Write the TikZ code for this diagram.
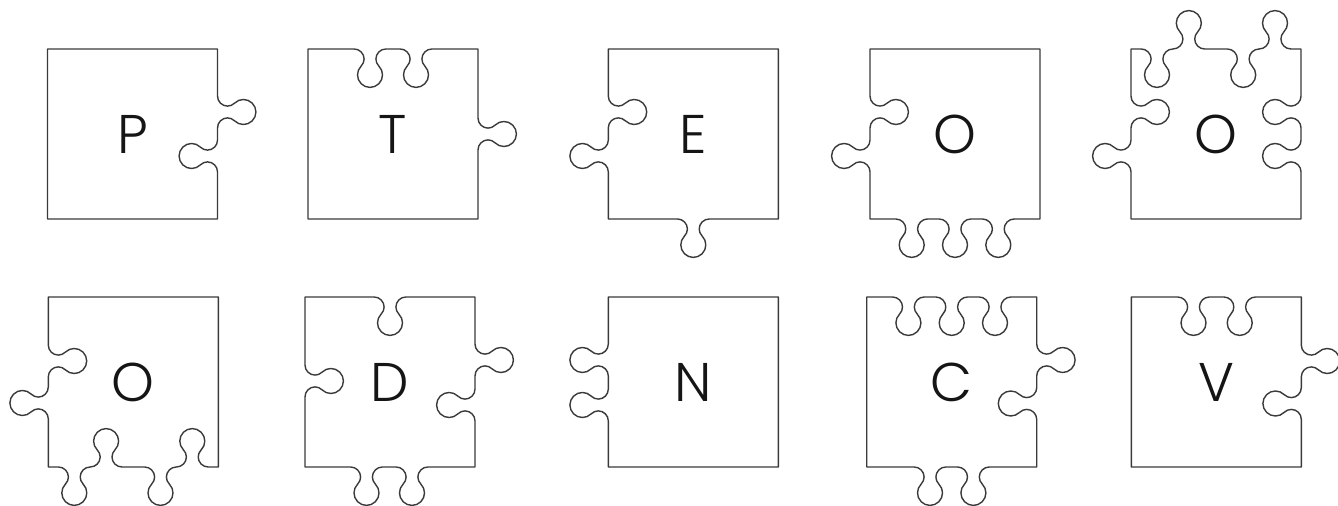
\documentclass[tikz,border=0pt]{standalone}
\usepackage{fontspec}
\usepackage{tikz}
\IfFontExistsTF{Poppins Light}{\newfontfamily\letterfont{Poppins Light}}{\newfontfamily\letterfont{Poppins}}
\definecolor{edgegray}{HTML}{3A3A3A}
\definecolor{inkblack}{HTML}{151515}
% knob sizes, 1 unit = 1px
\newcommand{\neckr}{0.2cm}
\newcommand{\headr}{0.25cm}
\newcommand{\neckw}{15.91}
% #1 = direction of travel, #2 = centre of the knob on the edge
\newcommand{\piecetab}[2]{-- ([shift={(#1+180:\neckw)}]#2) arc[start angle=#1+90,end angle=#1-45,radius=\neckr] arc[start angle=#1+135,end angle=#1+405,radius=\headr] arc[start angle=#1-135,end angle=#1-270,radius=\neckr]}
\newcommand{\pieceblank}[2]{-- ([shift={(#1+180:\neckw)}]#2) arc[start angle=#1-90,end angle=#1+45,radius=\neckr] arc[start angle=#1+225,end angle=#1-45,radius=\headr] arc[start angle=#1+135,end angle=#1+270,radius=\neckr]}

\begin{document}
\begin{tikzpicture}[
    x=0.02cm, y=0.02cm,
    piece/.style={draw=edgegray, line width=0.8pt, line join=round},
    letter/.style={font=\letterfont\fontsize{31}{31}\selectfont, text=inkblack, inner sep=0pt}
]
\useasboundingbox (0,0) rectangle (1338,506);

% top row
\draw[piece, shift={(47.5,287)}] (0,0) -- (170,0) \pieceblank{90}{170,63} \piecetab{90}{170,107} -- (170,170) -- (0,170) -- cycle;
\draw[piece, shift={(308,287)}] (0,0) -- (170,0) \piecetab{90}{170,85} -- (170,170) \pieceblank{180}{108,170} \pieceblank{180}{62,170} -- (0,170) -- cycle;
\draw[piece, shift={(608.3,287)}] (0,0) \piecetab{0}{85,0} -- (170,0) -- (170,170) -- (0,170) \pieceblank{270}{0,107} \piecetab{270}{0,63} -- cycle;
\draw[piece, shift={(870,287)}] (0,0) \piecetab{0}{41.7,0} \piecetab{0}{85,0} \piecetab{0}{128.3,0} -- (170,0) -- (170,170) -- (0,170) \pieceblank{270}{0,107} \piecetab{270}{0,63} -- cycle;
\draw[piece, shift={(1131,287)}] (0,0) -- (170,0) \pieceblank{90}{170,63} \pieceblank{90}{170,107} -- (170,170) \piecetab{180}{144,170} \pieceblank{180}{112.2,170} \piecetab{180}{57.8,170} \pieceblank{180}{26,170} -- (0,170) \pieceblank{270}{0,107} \piecetab{270}{0,63} -- cycle;

\node[letter] (p) at (132.5,372) {P};
\node[letter] (t) at (393,372) {T};
\node[letter] (e) at (693.3,372) {E};
\node[letter] (o1) at (955,372) {O};
\node[letter] (o2) at (1216,372) {O};

% bottom row
\draw[piece, shift={(48.3,39)}] (0,0) \piecetab{0}{26,0} \pieceblank{0}{57.8,0} \piecetab{0}{112.2,0} \pieceblank{0}{144,0} -- (170,0) -- (170,170) -- (0,170) \pieceblank{270}{0,106} \piecetab{270}{0,64} -- cycle;
\draw[piece, shift={(305,39)}] (0,0) \piecetab{0}{61.5,0} \piecetab{0}{107,0} -- (170,0) \pieceblank{90}{170,62} \piecetab{90}{170,107} -- (170,170) \pieceblank{180}{85,170} -- (0,170) \pieceblank{270}{0,86} -- cycle;
\draw[piece, shift={(608.3,39)}] (0,0) -- (170,0) -- (170,170) -- (0,170) \piecetab{270}{0,107} \piecetab{270}{0,62} -- cycle;
\draw[piece, shift={(866.7,39)}] (0,0) \piecetab{0}{63.3,0} \piecetab{0}{106.7,0} -- (170,0) \pieceblank{90}{170,63.5} \piecetab{90}{170,107} -- (170,170) \pieceblank{180}{128.3,170} \pieceblank{180}{85,170} \pieceblank{180}{41.7,170} -- (0,170) -- cycle;
\draw[piece, shift={(1131.3,39)}] (0,0) -- (170,0) \pieceblank{90}{170,63.5} \piecetab{90}{170,106} -- (170,170) \pieceblank{180}{108.4,170} \pieceblank{180}{62.2,170} -- (0,170) -- cycle;

\node[letter] (o3) at (133.3,124) {O};
\node[letter] (d) at (390,124) {D};
\node[letter] (n) at (693.3,124) {N};
\node[letter] (c) at (951.7,124) {C};
\node[letter] (v) at (1216.3,124) {V};
\end{tikzpicture}
\end{document}
